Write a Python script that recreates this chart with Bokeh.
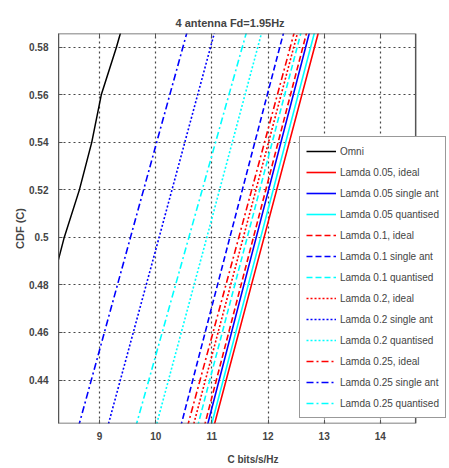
from bokeh.plotting import figure
from bokeh.models import Legend, LegendItem, LinearAxis, Range1d, FixedTicker
from bokeh.embed import file_html
from bokeh.resources import INLINE

# CDF levels at which the capacity values are read
cdf_levels = [0.42, 0.50, 0.59]
omni_cdf = [0.42, 0.48, 0.50, 0.52, 0.54, 0.56, 0.58, 0.59]
omni_c = [7.50, 8.15, 8.37, 8.64, 8.86, 9.03, 9.30, 9.42]

series_names = [
    "Lamda 0.05, ideal", "Lamda 0.05 single ant", "Lamda 0.05 quantised",
    "Lamda 0.1, ideal", "Lamda 0.1 single ant", "Lamda 0.1 quantised",
    "Lamda 0.2, ideal", "Lamda 0.2 single ant", "Lamda 0.2 quantised",
    "Lamda 0.25, ideal", "Lamda 0.25 single ant", "Lamda 0.25 quantised",
]
series_c = [
    [11.03, 11.93, 12.94],
    [10.91, 11.79, 12.78],
    [10.98, 11.87, 12.87],
    [10.86, 11.74, 12.73],
    [10.44, 11.32, 12.32],
    [10.74, 11.63, 12.63],
    [10.66, 11.56, 12.57],
    [9.14, 10.06, 11.09],
    [10.00, 10.91, 11.93],
    [10.56, 11.48, 12.51],
    [8.62, 9.55, 10.60],
    [9.64, 10.59, 11.66],
]
x_ticks = [9, 10, 11, 12, 13, 14]
y_ticks = [0.44, 0.46, 0.48, 0.50, 0.52, 0.54, 0.56, 0.58]

X0, X1, XV = 8.268, 15.197, 14.63   # axes box right edge at XV; frame extends so the legend can overhang
Y0, Y1 = 0.4217, 0.5858

colors = ["#ff0000", "#0000ff", "#00ffff"]
dashes = ["solid", "6 3", "2 2", "7 3 2 3"]

FONT = "Liberation Sans"
EDGE = "#555555"

p = figure(width=448, height=467, output_backend="svg", toolbar_location=None,
           x_range=Range1d(X0, X1), y_range=Range1d(Y0, Y1),
           min_border_left=58, min_border_right=1, min_border_top=33, min_border_bottom=40,
           title="4 antenna Fd=1.95Hz")
p.title.align = "left"
p.title.offset = 112
p.title.standoff = 0
p.title.padding = 5
p.title.text_font = FONT
p.title.text_font_size = "11px"
p.title.text_font_style = "bold"

p.background_fill_color = "white"
p.border_fill_color = "white"
p.outline_line_color = None

for ax in (p.xaxis[0], p.yaxis[0]):
    ax.major_tick_in = 4
    ax.major_tick_out = 0
    ax.minor_tick_in = 0
    ax.minor_tick_out = 0
    ax.major_tick_line_color = EDGE
    ax.major_label_text_font = FONT
    ax.major_label_text_font_style = "bold"
    ax.major_label_text_font_size = "10px"
    ax.axis_label_text_font = FONT
    ax.axis_label_text_font_style = "bold"
    ax.axis_label_text_font_size = "10px"
p.xaxis.axis_line_color = None
p.yaxis.axis_line_color = EDGE
p.yaxis.axis_label_text_font_size = "11px"

p.xaxis.ticker = FixedTicker(ticks=x_ticks)
p.yaxis.ticker = FixedTicker(ticks=y_ticks)
p.yaxis.major_label_overrides = {0.5: "0.5"}
p.xaxis.axis_label = "C bits/s/Hz"
p.yaxis.axis_label = "CDF (C)"
p.xaxis.major_label_standoff = 8
p.yaxis.major_label_standoff = 10
p.xaxis.axis_label_standoff = 11
p.yaxis.axis_label_standoff = 0

top_axis = LinearAxis(ticker=FixedTicker(ticks=x_ticks), major_tick_in=4, major_tick_out=0,
                      minor_tick_in=0, minor_tick_out=0, major_label_text_font_size="0px",
                      major_label_overrides={t: "" for t in x_ticks},
                      axis_line_color=None, major_tick_line_color=EDGE, major_label_standoff=0)
p.add_layout(top_axis, "above")

p.xgrid.ticker = FixedTicker(ticks=x_ticks)
p.ygrid.ticker = FixedTicker(ticks=y_ticks)
p.grid.grid_line_color = "#333333"
p.grid.grid_line_dash = "2 3"
p.grid.grid_line_width = 1.2
p.grid.grid_line_alpha = 0.9

items = []
r = p.line(omni_c, omni_cdf, line_color="black", line_width=1.5)
items.append(LegendItem(label="Omni", renderers=[r]))
for i, (name, cvals) in enumerate(zip(series_names, series_c)):
    r = p.line(cvals, cdf_levels, line_color=colors[i % 3], line_dash=dashes[i // 3],
               line_width=1.6)
    items.append(LegendItem(label=name, renderers=[r]))

# white mask right of the axes box, then the axes box outline
p.quad(left=[XV], right=[X1 + 1], bottom=[Y0 - 0.01], top=[Y1 + 0.01],
       fill_color="white", fill_alpha=1.0, line_color=None)
p.quad(left=[X0], right=[XV], bottom=[Y0], top=[Y1], fill_alpha=0.0,
       line_color=EDGE, line_width=1.5)

legend = Legend(items=items, location=(241, 5), glyph_width=30, glyph_height=16,
                label_height=16, spacing=5, padding=6, margin=0, label_standoff=4,
                label_text_font=FONT, label_text_font_size="10px",
                border_line_color="#333333", border_line_width=1.2,
                background_fill_color="white", background_fill_alpha=1.0)
p.add_layout(legend, "center")

open("out.html", "w").write(file_html(p, INLINE))
